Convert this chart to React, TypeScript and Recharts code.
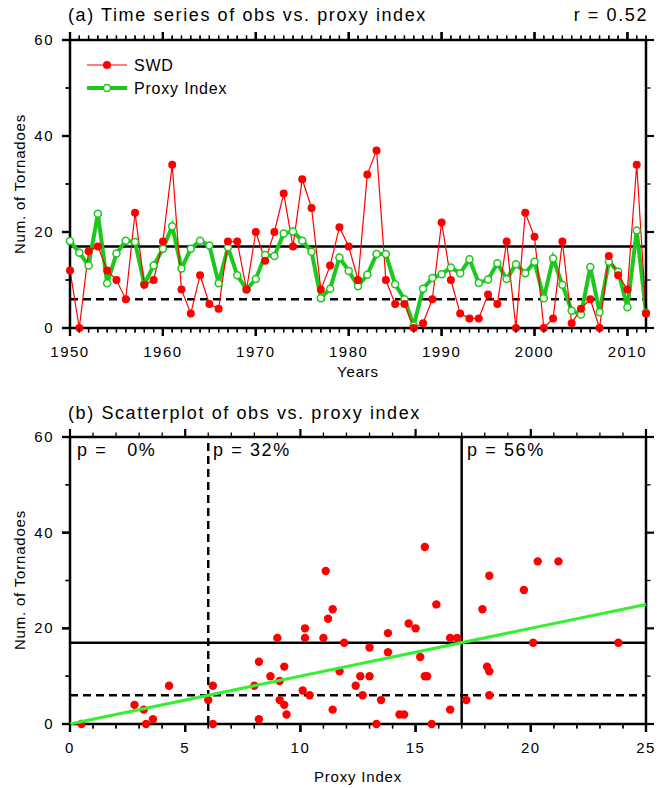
import React from "react";
import {
  ComposedChart,
  Line,
  ScatterChart,
  Scatter,
  XAxis,
  YAxis,
  ReferenceLine,
} from "recharts";

const FONT = "'Liberation Sans', Arial, Helvetica, sans-serif";

// years of record
const YEARS = [
  1950, 1951, 1952, 1953, 1954, 1955, 1956, 1957, 1958, 1959,
  1960, 1961, 1962, 1963, 1964, 1965, 1966, 1967, 1968, 1969,
  1970, 1971, 1972, 1973, 1974, 1975, 1976, 1977, 1978, 1979,
  1980, 1981, 1982, 1983, 1984, 1985, 1986, 1987, 1988, 1989,
  1990, 1991, 1992, 1993, 1994, 1995, 1996, 1997, 1998, 1999,
  2000, 2001, 2002, 2003, 2004, 2005, 2006, 2007, 2008, 2009,
  2010, 2011, 2012,
];

// observed tornado counts (SWD)
const SWD = [
  12, 0, 16, 17, 12, 10, 6, 24, 9, 10,
  18, 34, 8, 3, 11, 5, 4, 18, 18, 8,
  20, 14, 20, 28, 17, 31, 25, 8, 13, 21,
  17, 10, 32, 37, 10, 5, 5, 0, 1, 6,
  22, 10, 3, 2, 2, 7, 5, 18, 0, 24,
  19, 0, 2, 18, 1, 4, 6, 0, 15, 11,
  8, 34, 3,
];

// proxy index
const PROXY = [
  18.1, 15.7, 13.0, 23.8, 9.3, 15.5, 18.2, 17.9, 9.1, 13.0,
  16.5, 21.2, 12.4, 16.5, 18.2, 17.2, 9.3, 16.8, 11.0, 8.0,
  10.2, 15.2, 15.0, 19.7, 20.1, 18.2, 15.9, 6.2, 8.2, 14.7,
  11.9, 8.7, 11.1, 15.4, 15.4, 9.1, 6.0, 0.5, 8.2, 10.4,
  11.2, 12.6, 11.4, 14.3, 9.4, 10.1, 13.5, 10.2, 13.3, 11.4,
  13.8, 6.2, 14.5, 9.0, 3.6, 2.8, 12.7, 3.3, 13.8, 11.7,
  4.3, 20.3, 3.2,
];

// reference thresholds
const UPPER = 17;
const LOWER = 6;

// regression line end points (proxy, obs)
const FIT_X = [0, 25];
const FIT_Y = [0, 25];

// quadrant percentages
const P_LABELS = ["p =\u00a0\u00a0 0%", "p = 32%", "p = 56%"];

const YEAR_MAJORS = [1950, 1960, 1970, 1980, 1990, 2000, 2010];
const Y_TICKS = [0, 10, 20, 30, 40, 50, 60];
const Y_MAJORS = [0, 20, 40, 60];
const PX_TICKS = Array.from({ length: 26 }, (_, i) => i);
const PX_MAJORS = [0, 5, 10, 15, 20, 25];

const series = YEARS.map((year, i) => ({ year, swd: SWD[i], proxy: PROXY[i] }));
const scatter = YEARS.map((_, i) => ({ x: PROXY[i], y: SWD[i] }));
const fit = FIT_X.map((x, i) => ({ x, y: FIT_Y[i] }));

const GREEN = "#1cc81c";
const LIME = "#33f033";

type Side = "bottom" | "top" | "left" | "right";

const MAJOR_LEN = 8;
const MINOR_LEN = 4.5;

// outward tick rect at (x, y) on the frame
function tickRect(side: Side, x: number, y: number, major: boolean) {
  const len = major ? MAJOR_LEN : MINOR_LEN;
  const w = major ? 2.2 : 1.3;
  let r = { x: 0, y: 0, width: 0, height: 0 };
  if (side === "bottom") r = { x: x - w / 2, y, width: w, height: len };
  if (side === "top") r = { x: x - w / 2, y: y - len, width: w, height: len };
  if (side === "left") r = { x: x - len, y: y - w / 2, width: len, height: w };
  if (side === "right") r = { x, y: y - w / 2, width: len, height: w };
  return <rect {...r} fill="#000" />;
}

const textStyle = { fontFamily: FONT, fontSize: 15, letterSpacing: 1.5, fill: "#000" };

// axis tick: mark for every tick, label for majors on bottom/left
function axisTick(side: Side, majors: number[], labels: boolean) {
  return (props: any) => {
    const x = Number(props.x);
    const y = Number(props.y);
    const v = props.payload.value;
    const major = majors.includes(v);
    return (
      <g>
        {tickRect(side, x, y, major)}
        {labels && major && side === "bottom" && (
          <text x={x} y={y + 29} textAnchor="middle" style={textStyle}>
            {v}
          </text>
        )}
        {labels && major && side === "left" && (
          <text x={x - 16} y={y + 5} textAnchor="end" style={textStyle}>
            {v}
          </text>
        )}
      </g>
    );
  };
}

// tick points for the top / right sides (drawn through the chart scales)
function sideTicks(xKey: string, yKey: string, values: number[], majors: number[], fixed: number, horizontal: boolean) {
  return values.map((v) =>
    horizontal
      ? { [xKey]: v, [yKey]: fixed, major: majors.includes(v) }
      : { [xKey]: fixed, [yKey]: v, major: majors.includes(v) }
  );
}

function tickShape(side: Side) {
  return (p: any) => tickRect(side, Number(p.cx), Number(p.cy), p.payload.major);
}

// bottom / left ticks as reference-line segments
function tickSegments(
  side: "bottom" | "left",
  values: number[],
  majors: number[],
  fixed: number,
  unitsPerPx: number,
  id: string
) {
  return values.map((v) => {
    const major = majors.includes(v);
    const len = (major ? MAJOR_LEN : MINOR_LEN) * unitsPerPx;
    const seg =
      side === "bottom"
        ? [{ x: v, y: fixed }, { x: v, y: fixed - len }]
        : [{ x: fixed, y: v }, { x: fixed - len, y: v }];
    return (
      <ReferenceLine
        key={`${id}-${side}-${v}`}
        segment={seg}
        ifOverflow="visible"
        stroke="#000"
        strokeWidth={major ? 2.2 : 1.3}
      />
    );
  });
}

const axisLine = { stroke: "#000", strokeWidth: 2.5 };

const xCommon = {
  type: "number" as const,
  interval: 0 as const,
  height: 1,
  tickSize: 0,
  tickMargin: 0,
  tickLine: false,
  axisLine,
};
const yCommon = {
  type: "number" as const,
  domain: [0, 60],
  ticks: Y_TICKS,
  interval: 0 as const,
  width: 1,
  tickSize: 0,
  tickMargin: 0,
  tickLine: false,
  axisLine,
};

const tsTop = sideTicks("year", "val", YEARS, YEAR_MAJORS, 60, true);
const tsRight = sideTicks("year", "val", Y_TICKS, Y_MAJORS, 2012, false);
const scTop = sideTicks("x", "y", PX_TICKS, PX_MAJORS, 60, true);
const scRight = sideTicks("x", "y", Y_TICKS, Y_MAJORS, 25, false);

function TimeSeries() {
  return (
    <ComposedChart
      width={658}
      height={380}
      data={series}
      margin={{ top: 39, right: 11, bottom: 51, left: 69 }}
    >
      <XAxis
        {...xCommon}
        dataKey="year"
        domain={[1950, 2012]}
        ticks={YEARS}
        tick={axisTick("bottom", YEAR_MAJORS, true)}
      />
      <XAxis
        {...xCommon}
        xAxisId="top"
        orientation="top"
        dataKey="year"
        domain={[1950, 2012]}
        ticks={YEARS}
        tick={axisTick("top", YEAR_MAJORS, false)}
      />
      <YAxis {...yCommon} tick={axisTick("left", Y_MAJORS, true)} />
      <YAxis
        {...yCommon}
        yAxisId="right"
        orientation="right"
        tick={axisTick("right", Y_MAJORS, false)}
      />
      <ReferenceLine y={UPPER} stroke="#000" strokeWidth={2.5} />
      <ReferenceLine y={LOWER} stroke="#000" strokeWidth={2.5} strokeDasharray="8 5" />
      {tickSegments("bottom", YEARS, YEAR_MAJORS, 0, 60 / 288, "ts")}
      {tickSegments("left", Y_TICKS, Y_MAJORS, 1950, 62 / 576, "ts")}
      <Line
        dataKey="proxy"
        stroke={GREEN}
        strokeWidth={4}
        dot={{ r: 3.5, fill: "#fff", stroke: GREEN, strokeWidth: 1.5 }}
        isAnimationActive={false}
      />
      <Line
        dataKey="swd"
        stroke="#ff0000"
        strokeWidth={1.2}
        dot={{ r: 4, fill: "#ff0000", stroke: "#ff0000", strokeWidth: 0 }}
        isAnimationActive={false}
      />
      <Scatter data={tsTop} dataKey="val" shape={tickShape("top")} isAnimationActive={false} />
      <Scatter data={tsRight} dataKey="val" shape={tickShape("right")} isAnimationActive={false} />
    </ComposedChart>
  );
}

function ScatterPanel() {
  return (
    <ScatterChart
      width={658}
      height={408}
      margin={{ top: 56, right: 11, bottom: 63, left: 69 }}
    >
      <XAxis
        {...xCommon}
        dataKey="x"
        domain={[0, 25]}
        ticks={PX_TICKS}
        tick={axisTick("bottom", PX_MAJORS, true)}
      />
      <XAxis
        {...xCommon}
        xAxisId="top"
        orientation="top"
        dataKey="x"
        domain={[0, 25]}
        ticks={PX_TICKS}
        tick={axisTick("top", PX_MAJORS, false)}
      />
      <YAxis {...yCommon} dataKey="y" tick={axisTick("left", Y_MAJORS, true)} />
      <YAxis
        {...yCommon}
        yAxisId="right"
        orientation="right"
        dataKey="y"
        tick={axisTick("right", Y_MAJORS, false)}
      />
      <ReferenceLine y={UPPER} stroke="#000" strokeWidth={2.5} />
      <ReferenceLine y={LOWER} stroke="#000" strokeWidth={2.5} strokeDasharray="8 5" />
      <ReferenceLine x={UPPER} stroke="#000" strokeWidth={2.5} />
      <ReferenceLine x={LOWER} stroke="#000" strokeWidth={2.5} strokeDasharray="8 5" />
      {tickSegments("bottom", PX_TICKS, PX_MAJORS, 0, 60 / 288, "sc")}
      {tickSegments("left", Y_TICKS, Y_MAJORS, 0, 25 / 576, "sc")}
      <Scatter
        data={scatter}
        isAnimationActive={false}
        shape={(p: any) => <circle cx={p.cx} cy={p.cy} r={4.2} fill="#ff0000" />}
      />
      <Scatter
        data={fit}
        line={{ stroke: LIME, strokeWidth: 3 }}
        isAnimationActive={false}
        shape={() => <g />}
      />
      <Scatter data={scTop} shape={tickShape("top")} isAnimationActive={false} />
      <Scatter data={scRight} shape={tickShape("right")} isAnimationActive={false} />
    </ScatterChart>
  );
}

const titleStyle = { fontFamily: FONT, fontSize: 18, letterSpacing: 1.6, fill: "#000" };
const labelStyle = { fontFamily: FONT, fontSize: 15, letterSpacing: 0.8, fill: "#000" };

function Annotations() {
  return (
    <svg
      width={658}
      height={788}
      style={{ position: "absolute", left: 0, top: 0, pointerEvents: "none" }}
    >
      <text x={68} y={21} style={titleStyle}>
        (a) Time series of obs vs. proxy index
      </text>
      <text x={648} y={21} textAnchor="end" style={titleStyle}>
        r = 0.52
      </text>
      <text x={68} y={419} style={titleStyle}>
        (b) Scatterplot of obs vs. proxy index
      </text>

      {/* legend */}
      <line x1={87} y1={65} x2={127} y2={65} stroke="#ff0000" strokeWidth={1.2} />
      <circle cx={107} cy={65} r={4} fill="#ff0000" />
      <text x={134} y={71} style={{ ...labelStyle, fontSize: 16 }}>
        SWD
      </text>
      <line x1={87} y1={88} x2={127} y2={88} stroke={GREEN} strokeWidth={4} />
      <circle cx={107} cy={88} r={3.5} fill="#fff" stroke={GREEN} strokeWidth={1.5} />
      <text x={134} y={94} style={{ ...labelStyle, fontSize: 16 }}>
        Proxy Index
      </text>

      {/* axis titles */}
      <text x={358} y={377} textAnchor="middle" style={labelStyle}>
        Years
      </text>
      <text x={358} y={782} textAnchor="middle" style={labelStyle}>
        Proxy Index
      </text>
      <text x={0} y={0} textAnchor="middle" transform="translate(25,184) rotate(-90)" style={labelStyle}>
        Num. of Tornadoes
      </text>
      <text x={0} y={0} textAnchor="middle" transform="translate(25,580) rotate(-90)" style={labelStyle}>
        Num. of Tornadoes
      </text>

      {/* quadrant labels */}
      <text x={77} y={456} style={titleStyle}>
        {P_LABELS[0]}
      </text>
      <text x={213} y={456} style={titleStyle}>
        {P_LABELS[1]}
      </text>
      <text x={467} y={456} style={titleStyle}>
        {P_LABELS[2]}
      </text>
    </svg>
  );
}

export default function App() {
  return (
    <div style={{ position: "absolute", left: 0, top: 0, width: 658, height: 788, background: "#fff" }}>
      <div style={{ position: "absolute", left: 0, top: 0 }}>
        <TimeSeries />
      </div>
      <div style={{ position: "absolute", left: 0, top: 380 }}>
        <ScatterPanel />
      </div>
      <Annotations />
    </div>
  );
}
